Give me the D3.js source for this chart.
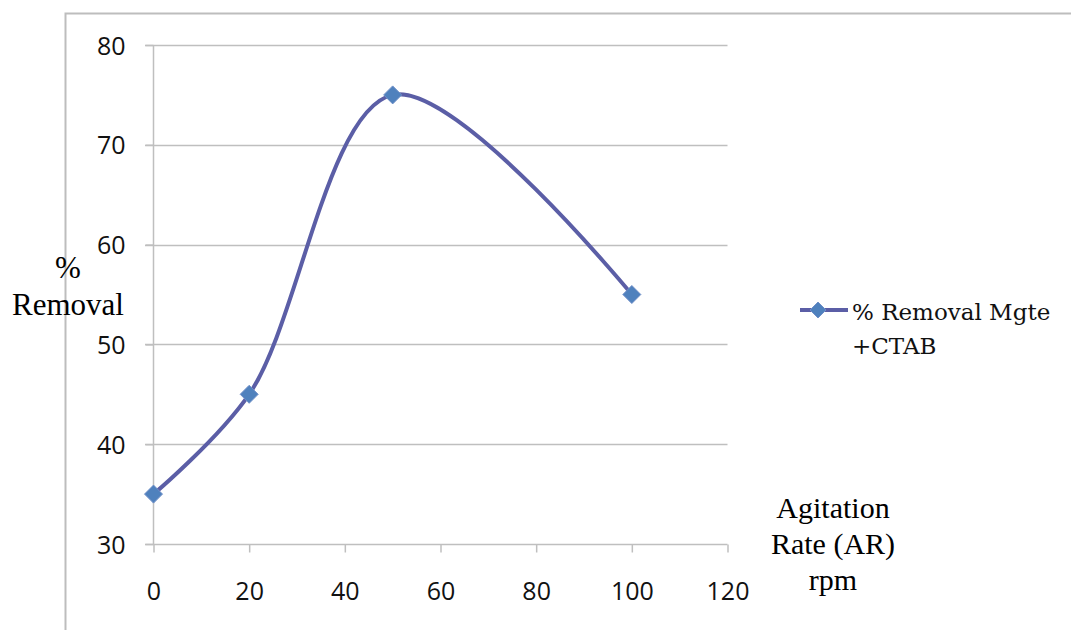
<!DOCTYPE html>
<html><head><meta charset="utf-8">
<script src="https://cdn.jsdelivr.net/npm/d3@7"></script>
<style>body{margin:0;background:#fff}svg{display:block}</style>
</head><body><svg id="c" width="1071" height="630"></svg>
<script>
const xValues = [0, 20, 50, 100];
const yValues = [35, 45, 75, 55];
const xTicks = [0, 20, 40, 60, 80, 100, 120];
const yTicks = [30, 40, 50, 60, 70, 80];
const seriesName = ["% Removal Mgte", "+CTAB"];
const yTitle = ["%", "Removal"];
const xTitle = ["Agitation", "Rate (AR)", "rpm"];

const svg = d3.select("#c");
const x = d3.scaleLinear().domain([0, 120]).range([153.5, 727.5]);
const y = d3.scaleLinear().domain([30, 80]).range([544, 45]);

// outer frame
svg.append("path").attr("d", "M65.5,630 L65.5,13.5 L1071,13.5").attr("fill", "none").attr("stroke", "#bdbdbd").attr("stroke-width", 2);

// gridlines
svg.append("g").selectAll("line").data(yTicks.slice(1)).join("line")
  .attr("x1", 145).attr("x2", 727.5).attr("y1", d => Math.round(y(d)) + 0.5).attr("y2", d => Math.round(y(d)) + 0.5)
  .attr("stroke", "#bfbfbf").attr("stroke-width", 1.5);

const tickFont = "Open Sans, sans-serif";
// y axis
const yAxis = svg.append("g").attr("transform", "translate(153.5,0)")
  .call(d3.axisLeft(y).tickValues(yTicks).tickSize(8).tickPadding(20));
yAxis.select(".domain").remove();
yAxis.append("line").attr("y1", y(30)).attr("y2", y(80)).attr("stroke", "#bfbfbf").attr("stroke-width", 1.5);
yAxis.selectAll(".tick line").attr("stroke", "#bfbfbf").attr("stroke-width", 1.5);
yAxis.selectAll("text").attr("font-family", tickFont).style("font-size", "25px").attr("fill", "#111").attr("dy", "0.36em");

// x axis
const xAxis = svg.append("g").attr("transform", `translate(0,${Math.round(y(30)) + 0.5})`)
  .call(d3.axisBottom(x).tickValues(xTicks).tickSize(8).tickPadding(38));
xAxis.select(".domain").remove();
xAxis.append("line").attr("x1", 145).attr("x2", x(120)).attr("stroke", "#bfbfbf").attr("stroke-width", 1.5);
xAxis.selectAll(".tick line").attr("stroke", "#bfbfbf").attr("stroke-width", 1.5);
xAxis.selectAll("text").attr("font-family", tickFont).style("font-size", "25px").attr("fill", "#111").attr("dy", "0.36em");

// series
const pts = xValues.map((v, i) => [x(v), y(yValues[i])]);
svg.append("path").attr("d", d3.line().curve(d3.curveCatmullRom.alpha(0.5))(pts))
  .attr("fill", "none").attr("stroke", "#5b5ea6").attr("stroke-width", 4);

const diamond = s => `M0,${-s} L${s},0 L0,${s} L${-s},0 Z`;
svg.append("g").selectAll("path").data(pts).join("path")
  .attr("transform", d => `translate(${d[0]},${d[1]})`)
  .attr("d", diamond(9)).attr("fill", "#4f81bd").attr("stroke", "#6f8fc8").attr("stroke-width", 1);

// legend
svg.append("line").attr("x1", 800).attr("x2", 848).attr("y1", 310).attr("y2", 310).attr("stroke", "#5b5ea6").attr("stroke-width", 4);
svg.append("path").attr("transform", "translate(818,310)").attr("d", diamond(8)).attr("fill", "#4f81bd").attr("stroke", "#6f8fc8");
svg.append("g").selectAll("text").data(seriesName).join("text")
  .attr("x", 852).attr("y", (d, i) => 320 + i * 34).text(d => d)
  .attr("font-family", "DejaVu Serif, serif").style("font-size", "23px").attr("fill", "#111");

// axis titles
svg.append("g").selectAll("text").data(yTitle).join("text")
  .attr("x", 68).attr("y", (d, i) => 278 + i * 37).attr("text-anchor", "middle").text(d => d)
  .attr("font-family", "Liberation Serif, serif").style("font-size", "31px").attr("fill", "#000");
svg.append("g").selectAll("text").data(xTitle).join("text")
  .attr("x", 833).attr("y", (d, i) => 518 + i * 36).attr("text-anchor", "middle").text(d => d)
  .attr("font-family", "Liberation Serif, serif").style("font-size", "30px").attr("fill", "#000");
</script></body></html>
